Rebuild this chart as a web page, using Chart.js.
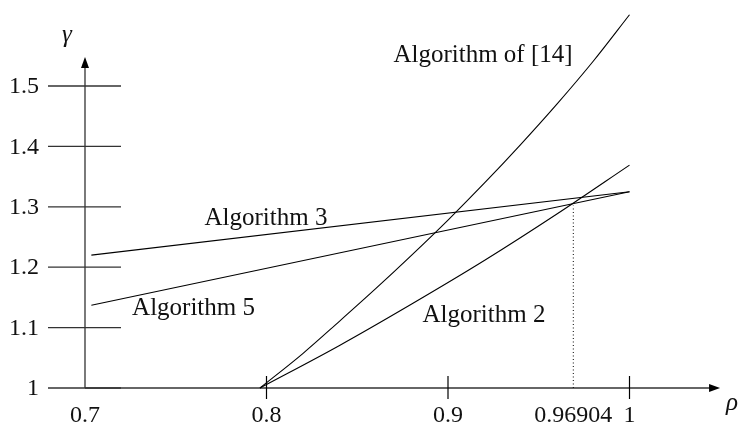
<!DOCTYPE html>
<html>
<head>
<meta charset="utf-8">
<script src="https://cdn.jsdelivr.net/npm/chart.js@4"></script>
<style>
  html, body { margin: 0; padding: 0; background: #fff; }
  #wrap { width: 741px; height: 427px; position: relative; }
</style>
</head>
<body>
<div id="wrap"><canvas id="chart"></canvas></div>
<script>
// Data (rho on x, gamma on y)
const rho14 = [0.7964, 0.82, 0.84, 0.86, 0.88, 0.90, 0.92, 0.94, 0.96, 0.98, 1.0];
const gamma14 = [1.000, 1.057, 1.110, 1.164, 1.220, 1.278, 1.339, 1.403, 1.470, 1.541, 1.618];

const rho2 = [0.7964, 0.84, 0.88, 0.92, 0.96, 1.0];
const gamma2 = [1.000, 1.070, 1.139, 1.211, 1.288, 1.369];

const rho3 = [0.7035, 1.0];
const gamma3 = [1.220, 1.325];

const rho5 = [0.7035, 1.0];
const gamma5 = [1.137, 1.325];

const crossRho = [0.96904, 0.96904];
const crossGamma = [1.0, 1.302];

const xTicks = [0.8, 0.9, 1];
const xTickLabels = ["0.8", "0.9", "1"];
const extraTick = 0.96904;
const extraTickLabel = "0.96904";
const originLabel = "0.7";
const yTicks = [1, 1.1, 1.2, 1.3, 1.4, 1.5];
const yTickLabels = ["1", "1.1", "1.2", "1.3", "1.4", "1.5"];

const seriesNames = ["Algorithm of [14]", "Algorithm 3", "Algorithm 5", "Algorithm 2"];

const pts = (xs, ys) => xs.map((x, i) => ({ x: x, y: ys[i] }));

const serif = '"Liberation Serif", "Times New Roman", serif';

// draws the axes, arrows, ticks and text with the chart's scales
const axesPlugin = {
  id: "axes",
  beforeDatasetsDraw(chart) {
    const c = chart.ctx;
    const xs = chart.scales.x, ys = chart.scales.y;
    const ox = xs.getPixelForValue(0.7), oy = ys.getPixelForValue(1);
    c.save();
    c.strokeStyle = "#333";
    c.fillStyle = "#000";
    c.lineWidth = 1.3;

    // y ticks (long, both sides of the axis)
    yTicks.forEach(v => {
      const p = ys.getPixelForValue(v);
      c.beginPath();
      c.moveTo(ox - 37, p);
      c.lineTo(ox + 36, p);
      c.stroke();
    });

    // x axis
    const xEnd = xs.getPixelForValue(1.0499);
    c.beginPath();
    c.moveTo(ox, oy);
    c.lineTo(xEnd - 8, oy);
    c.stroke();
    c.beginPath();
    c.moveTo(xEnd, oy);
    c.lineTo(xEnd - 11, oy - 4);
    c.lineTo(xEnd - 11, oy + 4);
    c.closePath();
    c.fill();

    // y axis
    const yEnd = ys.getPixelForValue(1.548);
    c.beginPath();
    c.moveTo(ox, oy);
    c.lineTo(ox, yEnd + 8);
    c.stroke();
    c.beginPath();
    c.moveTo(ox, yEnd);
    c.lineTo(ox - 4, yEnd + 11);
    c.lineTo(ox + 4, yEnd + 11);
    c.closePath();
    c.fill();

    // x ticks
    c.lineWidth = 1.2;
    c.strokeStyle = "#000";
    xTicks.forEach(v => {
      const p = xs.getPixelForValue(v);
      c.beginPath();
      c.moveTo(p, oy - 12);
      c.lineTo(p, oy + 11);
      c.stroke();
    });

    // tick labels
    c.font = "24px " + serif;
    c.fillStyle = "#111";
    c.textBaseline = "middle";
    c.textAlign = "right";
    yTicks.forEach((v, i) => {
      c.fillText(yTickLabels[i], ox - 46, ys.getPixelForValue(v) + 1);
    });
    c.textAlign = "center";
    const ly = oy + 28;
    c.fillText(originLabel, ox, ly);
    xTicks.forEach((v, i) => {
      c.fillText(xTickLabels[i], xs.getPixelForValue(v), ly);
    });
    c.fillText(extraTickLabel, xs.getPixelForValue(extraTick), ly);

    // axis names
    c.font = "italic 25px " + serif;
    c.textBaseline = "alphabetic";
    c.textAlign = "left";
    c.fillText("γ", ox - 23, 42);
    c.fillText("ρ", xEnd + 6, oy + 22);
    c.restore();
  },
  afterDatasetsDraw(chart) {
    const c = chart.ctx;
    const xs = chart.scales.x, ys = chart.scales.y;
    const anchors = [[0.9193, 1.5397], [0.7997, 1.2699], [0.7598, 1.1209], [0.9198, 1.1093]];
    c.save();
    c.font = "25px " + serif;
    c.fillStyle = "#111";
    c.textAlign = "center";
    c.textBaseline = "alphabetic";
    seriesNames.forEach((name, i) => {
      c.fillText(name, xs.getPixelForValue(anchors[i][0]), ys.getPixelForValue(anchors[i][1]));
    });
    c.restore();
  }
};

const lineStyle = {
  showLine: true,
  borderColor: "#000",
  borderWidth: 1.1,
  pointRadius: 0,
  fill: false
};

new Chart(document.getElementById("chart"), {
  type: "scatter",
  data: {
    datasets: [
      Object.assign({ label: seriesNames[0], data: pts(rho14, gamma14), cubicInterpolationMode: "monotone" }, lineStyle),
      Object.assign({ label: seriesNames[1], data: pts(rho3, gamma3) }, lineStyle),
      Object.assign({ label: seriesNames[2], data: pts(rho5, gamma5) }, lineStyle),
      Object.assign({ label: seriesNames[3], data: pts(rho2, gamma2), cubicInterpolationMode: "monotone" }, lineStyle),
      Object.assign({ label: "0.96904", data: pts(crossRho, crossGamma) }, lineStyle, { borderDash: [1, 2.5], borderWidth: 1 })
    ]
  },
  options: {
    responsive: true,
    maintainAspectRatio: false,
    animation: false,
    layout: { padding: 0 },
    clip: false,
    scales: {
      x: { type: "linear", display: false, min: 0.65317, max: 1.06143 },
      y: { type: "linear", display: false, min: 0.93543, max: 1.64238 }
    },
    plugins: { legend: { display: false }, tooltip: { enabled: false } }
  },
  plugins: [axesPlugin]
});
</script>
</body>
</html>
